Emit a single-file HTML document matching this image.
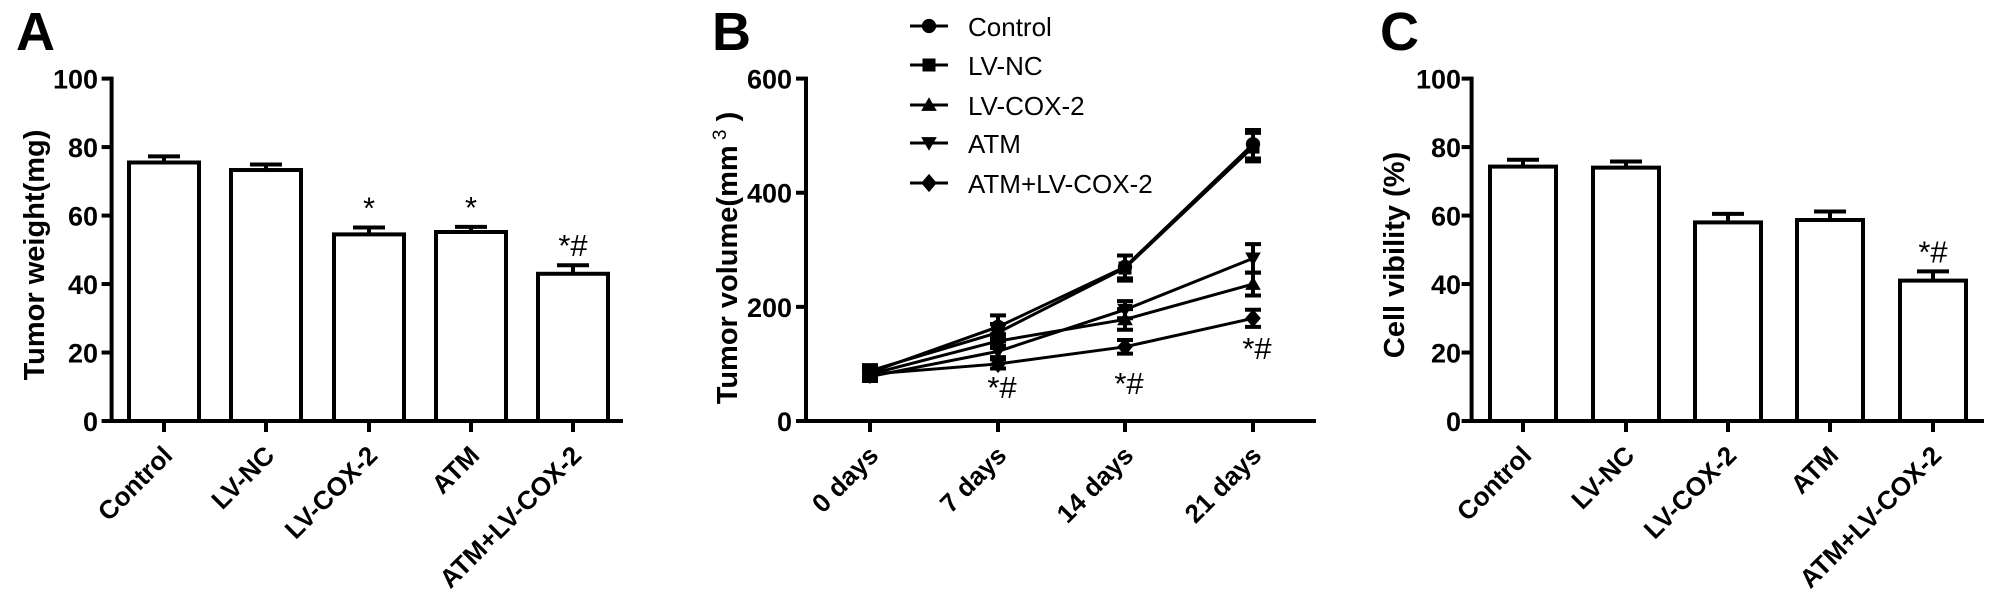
<!DOCTYPE html>
<html><head><meta charset="utf-8"><style>
html,body{margin:0;padding:0;background:#fff}
svg{display:block;font-family:"Liberation Sans",Arial,sans-serif}
</style></head><body>
<svg id="fig" width="2008" height="607" viewBox="0 0 2008 607" xmlns="http://www.w3.org/2000/svg">
<text x="16" y="50" font-size="54" font-weight="bold">A</text>
<text x="712" y="50" font-size="54" font-weight="bold">B</text>
<text x="1380" y="50" font-size="54" font-weight="bold">C</text>
<g id="pa"></g>
<g id="pb"></g>
<g id="pc"></g>
</svg>
<script>
const groups = ["Control","LV-NC","LV-COX-2","ATM","ATM+LV-COX-2"];
const weightVals = [75.5,73.3,54.5,55.2,43];
const weightErr = [1.8,1.6,2.0,1.5,2.5];
const weightSig = ["","","*","*","*#"];
const weightTicks = [0,20,40,60,80,100];
const viabVals = [74.3,74,58,58.7,41];
const viabErr = [2,1.8,2.5,2.5,2.7];
const viabSig = ["","","","","*#"];
const viabTicks = [0,20,40,60,80,100];
const days = ["0 days","7 days","14 days","21 days"];
const volTicks = [0,200,400,600];
const volControl = [85,165,270,485];
const volLVNC = [88,155,268,480];
const volLVCOX = [82,140,178,240];
const volATM = [78,122,195,285];
const volCombo = [82,100,130,180];
const errControl = [10,20,20,25];
const errLVNC = [10,15,22,25];
const errLVCOX = [8,12,18,20];
const errATM = [8,10,15,25];
const errCombo = [8,8,12,15];
const volSig = ["","*#","*#","*#"];

const NS="http://www.w3.org/2000/svg";
function mk(parent,tag,attrs,text){const e=document.createElementNS(NS,tag);for(const k in attrs)e.setAttribute(k,attrs[k]);if(text!==undefined)e.textContent=text;parent.appendChild(e);return e;}
const Y0=421,Y1=78.6;

function barPanel(gid,x0,axisL,axisR,centers,bw,vals,errs,sigs,ticks,title,titleX,tickLabelX){
  const g=document.getElementById(gid);
  const ymax=ticks[ticks.length-1];
  const y=v=>Y0-(Y0-Y1)*v/ymax;
  const ax=mk(g,'line',{x1:x0,y1:Y1-2,x2:x0,y2:Y0,stroke:'#000','stroke-width':4});
  
  const bx=mk(g,'line',{x1:axisL,y1:Y0,x2:axisR,y2:Y0,stroke:'#000','stroke-width':4});
  
  ticks.forEach(t=>{
    const l=mk(g,'line',{x1:x0-10,y1:y(t),x2:x0,y2:y(t),stroke:'#000','stroke-width':4});
    
    const tx=mk(g,'text',{x:tickLabelX,y:y(t)+10,'font-size':27,'font-weight':'bold','text-anchor':'end'},String(t));
    
  });
  const tt=mk(g,'text',{x:0,y:0,'font-size':29,'font-weight':'bold','text-anchor':'middle',transform:`translate(${titleX},255) rotate(-90)`},title);
  
  groups.forEach((c,i)=>{
    const cx=centers[i];
    const b=mk(g,'rect',{x:cx-bw/2,y:y(vals[i]),width:bw,height:Y0-y(vals[i]),fill:'#fff',stroke:'#000','stroke-width':4});
    
    const et=y(vals[i]+errs[i]);
    const e1=mk(g,'line',{x1:cx,y1:y(vals[i]),x2:cx,y2:et,stroke:'#000','stroke-width':4});
    
    const e2=mk(g,'line',{x1:cx-16,y1:et,x2:cx+16,y2:et,stroke:'#000','stroke-width':4});
    
    if(sigs[i]){const s=mk(g,'text',{x:cx,y:et-9,'font-size':31,'text-anchor':'middle'},sigs[i]);
      }
    const tk=mk(g,'line',{x1:cx,y1:Y0,x2:cx,y2:Y0+11,stroke:'#000','stroke-width':4});
    
    const xl=mk(g,'text',{x:0,y:0,'font-size':26,'font-weight':'bold','text-anchor':'end',transform:`translate(${cx+10},${Y0+36}) rotate(-45)`},c);
    
  });
}
barPanel('pa',111.6,103,623,[164,266,369,471,573],70,weightVals,weightErr,weightSig,weightTicks,'Tumor weight(mg)',44,98);
barPanel('pc',1471.6,1463,1984,[1523,1626,1728,1830,1933],66,viabVals,viabErr,viabSig,viabTicks,'Cell vibility (%)',1404,1461);

// Panel B
(function(){
  const g=document.getElementById('pb');
  const x0=806, xs=[870,998,1125,1253];
  const y=v=>Y0-(Y0-Y1)*v/600;
  const ax=mk(g,'line',{x1:x0,y1:Y1-2,x2:x0,y2:Y0,stroke:'#000','stroke-width':4});
  
  const bx=mk(g,'line',{x1:797,y1:Y0,x2:1316,y2:Y0,stroke:'#000','stroke-width':4});
  
  volTicks.forEach(t=>{
    const l=mk(g,'line',{x1:x0-10,y1:y(t),x2:x0,y2:y(t),stroke:'#000','stroke-width':4});
    
    const tx=mk(g,'text',{x:792,y:y(t)+10,'font-size':27,'font-weight':'bold','text-anchor':'end'},String(t));
    
  });
  const tt=mk(g,'text',{x:0,y:0,'font-size':29,'font-weight':'bold','text-anchor':'middle',transform:'translate(737,258) rotate(-90)'});
  
  tt.appendChild(document.createTextNode('Tumor volume(mm'));
  mk(tt,'tspan',{'font-size':19,'font-weight':'normal',dy:-11},' 3');
  mk(tt,'tspan',{dy:11},' )');
  days.forEach((d,i)=>{
    const tk=mk(g,'line',{x1:xs[i],y1:Y0,x2:xs[i],y2:Y0+11,stroke:'#000','stroke-width':4});
    
    const xl=mk(g,'text',{x:0,y:0,'font-size':26,'font-weight':'bold','text-anchor':'end',transform:`translate(${xs[i]+10},${Y0+36}) rotate(-45)`},d);
    
  });
  const series=[["Control",volControl,errControl,'circle'],["LV-NC",volLVNC,errLVNC,'square'],["LV-COX-2",volLVCOX,errLVCOX,'up'],["ATM",volATM,errATM,'down'],["ATM+LV-COX-2",volCombo,errCombo,'diamond']];
  function marker(parent,type,cx,cy,s){
    let e;
    if(type==='circle')e=mk(parent,'circle',{cx:cx,cy:cy,r:s*0.55});
    else if(type==='square')e=mk(parent,'rect',{x:cx-s/2,y:cy-s/2,width:s,height:s});
    else if(type==='up')e=mk(parent,'polygon',{points:`${cx},${cy-s*0.6} ${cx-s*0.6},${cy+s*0.45} ${cx+s*0.6},${cy+s*0.45}`});
    else if(type==='down')e=mk(parent,'polygon',{points:`${cx},${cy+s*0.6} ${cx-s*0.6},${cy-s*0.45} ${cx+s*0.6},${cy-s*0.45}`});
    else e=mk(parent,'polygon',{points:`${cx},${cy-s*0.7} ${cx+s*0.6},${cy} ${cx},${cy+s*0.7} ${cx-s*0.6},${cy}`});
    e.setAttribute('fill','#000');
    return e;
  }
  series.forEach((s,si)=>{
    const sg=mk(g,'g',{});
    
    
    const pts=s[1].map((v,i)=>xs[i]+','+y(v)).join(' ');
    const pl=mk(sg,'polyline',{points:pts,fill:'none',stroke:'#000','stroke-width':3});
    
    s[1].forEach((v,i)=>{
      const lo=y(v-s[2][i]),hi=y(v+s[2][i]);
      const eb=mk(sg,'path',{d:`M${xs[i]},${lo}V${hi}M${xs[i]-8},${lo}H${xs[i]+8}M${xs[i]-8},${hi}H${xs[i]+8}`,stroke:'#000','stroke-width':4,fill:'none'});
      
      const m=marker(sg,s[3],xs[i],y(v),13);
      
    });
    const ly=[26,65,105,143,183][si];
    const le=mk(g,'g',{});
    
    mk(le,'line',{x1:910,y1:ly,x2:948,y2:ly,stroke:'#000','stroke-width':3});
    marker(le,s[3],929,ly,13);
    mk(le,'text',{x:968,y:ly+10,'font-size':26},s[0]);
  });
  const sigY=[0,387,383,348];
  volSig.forEach((t,i)=>{ if(t){
    const s=mk(g,'text',{x:xs[i]+4,y:sigY[i]+11,'font-size':31,'text-anchor':'middle'},t);
    }});
})();
</script>
</body></html>
